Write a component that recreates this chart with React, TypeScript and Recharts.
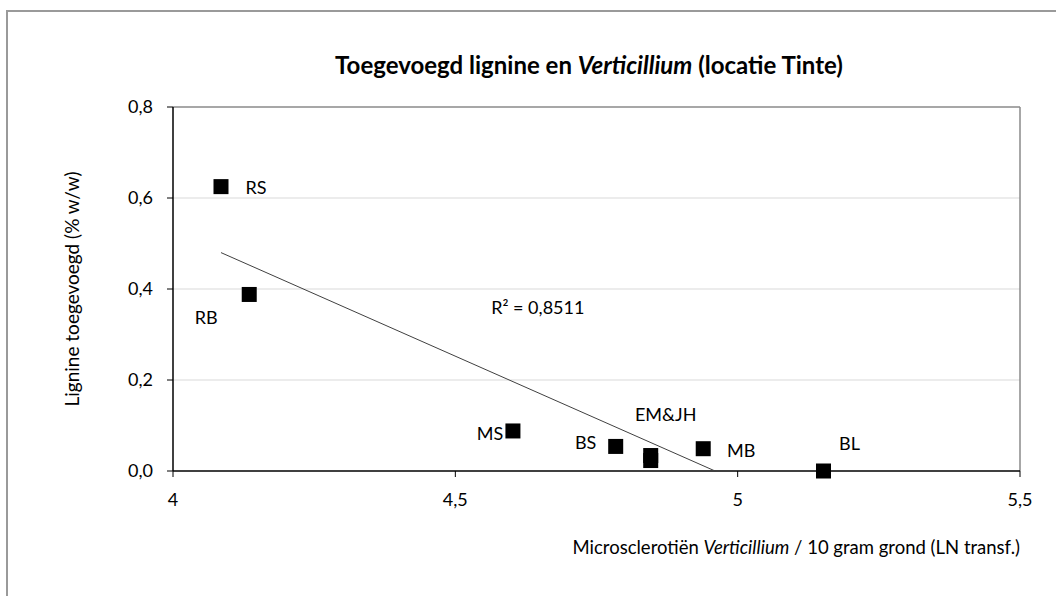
import React from 'react'
import {
  ScatterChart,
  Scatter,
  XAxis,
  YAxis,
  CartesianGrid,
  ReferenceLine,
  ReferenceDot,
} from 'recharts'

// microsclerotia (LN transf.) per location
const locations = ['RS', 'RB', 'MS', 'BS', 'EM', 'JH', 'MB', 'BL']
const microsclerotia = [4.085, 4.135, 4.602, 4.784, 4.846, 4.846, 4.939, 5.152]
const lignine = [0.625, 0.388, 0.088, 0.054, 0.034, 0.023, 0.049, 0.0]
const pointLabels = ['RS', 'RB', 'MS', 'BS', 'EM&JH', '', 'MB', 'BL']

// linear trendline as drawn (start, where it meets the x axis)
const trendX = [4.085, 4.96]
const trendY = [0.48, 0.0]
const rSquared = 'R² = 0,8511'

const xTicks = [4, 4.5, 5, 5.5]
const yTicks = [0, 0.2, 0.4, 0.6, 0.8]

// where each label sits relative to its marker
const labelOffset: Record<string, [number, number]> = {
  RS: [35, 0],
  RB: [-43, 23],
  MS: [-23, 2],
  BS: [-30, -4],
  EM: [15, -42],
  JH: [0, 0],
  MB: [38, 1],
  BL: [26, -28],
}

const points = locations.map((name, i) => ({
  name,
  label: pointLabels[i],
  x: microsclerotia[i],
  y: lignine[i],
}))
const trend = trendX.map((x, i) => ({ x, y: trendY[i] }))

const FONT = 'Lato, "Open Sans", sans-serif'
const comma = (v: number, d: number) => v.toFixed(d).replace('.', ',')

const SquareWithLabel = (props: any) => {
  const { cx, cy, payload } = props
  const [dx, dy] = labelOffset[payload.name] || [0, 0]
  return (
    <g>
      <rect x={cx - 7.5} y={cy - 7.5} width={15} height={15} fill="#000" />
      {payload.label ? (
        <text
          x={cx + dx}
          y={cy + dy}
          textAnchor="middle"
          dominantBaseline="central"
          fontSize={18}
          fontFamily={FONT}
          fill="#000"
        >
          {payload.label}
        </text>
      ) : null}
    </g>
  )
}

const App = () => {
  return (
    <div
      style={{
        position: 'absolute',
        left: 0,
        top: 0,
        width: 1056,
        height: 596,
        overflow: 'hidden',
        background: '#fff',
        fontFamily: FONT,
      }}
    >
      <div
        style={{
          position: 'absolute',
          left: 6,
          top: 10,
          width: 1200,
          height: 800,
          border: '2px solid #9a9a9a',
        }}
      />
      <div
        style={{
          position: 'absolute',
          left: 289,
          width: 600,
          top: 50,
          lineHeight: '30px',
          textAlign: 'center',
          fontSize: 24,
          fontWeight: 700,
          color: '#000',
        }}
      >
        Toegevoegd lignine en <i>Verticillium</i> (locatie Tinte)
      </div>
      <div
        style={{
          position: 'absolute',
          left: 72 - 150,
          top: 289 - 12,
          width: 300,
          lineHeight: '24px',
          textAlign: 'center',
          fontSize: 19,
          color: '#000',
          transform: 'rotate(-90deg)',
        }}
      >
        Lignine toegevoegd (% w/w)
      </div>
      <div
        style={{
          position: 'absolute',
          right: 36,
          top: 536,
          lineHeight: '22px',
          fontSize: 18.5,
          color: '#000',
          whiteSpace: 'nowrap',
        }}
      >
        Microsclerotiën <i>Verticillium</i> / 10 gram grond (LN transf.)
      </div>
      <div style={{ position: 'absolute', left: 0, top: 0 }}>
        <ScatterChart
          width={1056}
          height={596}
          margin={{ top: 107, right: 36, left: 113, bottom: 95 }}
        >
          <CartesianGrid vertical={false} stroke="#d9d9d9" horizontalValues={[0.2, 0.4, 0.6]} />
          <XAxis
            type="number"
            dataKey="x"
            domain={[4, 5.5]}
            ticks={xTicks}
            interval={0}
            height={30}
            tickSize={6}
            tickMargin={16}
            axisLine={{ stroke: '#000', strokeWidth: 1.5 }}
            tickLine={{ stroke: '#000' }}
            tick={{ fill: '#000', fontSize: 18, fontFamily: FONT }}
            tickFormatter={(v: number) => (Number.isInteger(v) ? String(v) : comma(v, 1))}
          />
          <YAxis
            type="number"
            dataKey="y"
            domain={[0, 0.8]}
            ticks={yTicks}
            interval={0}
            width={60}
            tickSize={6}
            tickMargin={14}
            axisLine={{ stroke: '#000', strokeWidth: 1.5 }}
            tickLine={{ stroke: '#000' }}
            tick={{ fill: '#000', fontSize: 18, fontFamily: FONT }}
            tickFormatter={(v: number) => comma(v, 1)}
          />
          <ReferenceLine y={0.8} stroke="#8a8a8a" strokeWidth={1.5} />
          <ReferenceLine x={5.5} stroke="#8a8a8a" strokeWidth={1.5} />
          <Scatter
            data={trend}
            line={{ stroke: '#404040', strokeWidth: 1 }}
            shape={() => <g />}
            isAnimationActive={false}
          />
          <Scatter data={points} shape={SquareWithLabel} isAnimationActive={false} />
          <ReferenceDot
            x={4.646}
            y={0.36}
            r={0}
            fill="none"
            stroke="none"
            label={{ value: rSquared, position: 'center', fill: '#000', fontSize: 18, fontFamily: FONT }}
          />
        </ScatterChart>
      </div>
    </div>
  )
}

export default App
